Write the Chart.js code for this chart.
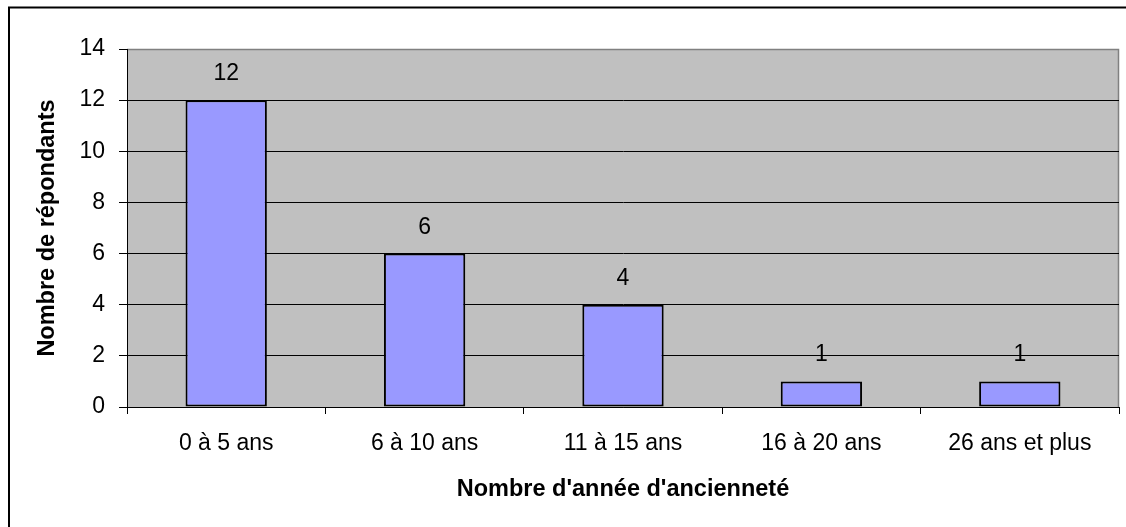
<!DOCTYPE html>
<html>
<head>
<meta charset="utf-8">
<script src="https://cdn.jsdelivr.net/npm/chart.js@4/dist/chart.umd.min.js"></script>
<style>
  html, body { margin: 0; padding: 0; background: #fff; }
  #wrap { width: 1126px; height: 527px; }
</style>
</head>
<body>
<div id="wrap"><canvas id="c" width="1126" height="527"></canvas></div>
<script>
// Répartition des répondants selon l'ancienneté
const categories = ['0 à 5 ans', '6 à 10 ans', '11 à 15 ans', '16 à 20 ans', '26 ans et plus'];
const respondents = [12, 6, 4, 1, 1];
const yTickValues = [0, 2, 4, 6, 8, 10, 12, 14];
const xTitle = "Nombre d'année d'ancienneté";
const yTitle = 'Nombre de répondants';

const FONT = "'Liberation Sans', Arial, sans-serif";

// Grey plot background, grey top/right frame and outer chart border
const frame = {
  id: 'frame',
  beforeDraw(chart) {
    const { ctx, chartArea: a } = chart;
    ctx.save();
    ctx.fillStyle = '#ffffff';
    ctx.fillRect(0, 0, chart.width, chart.height);
    ctx.strokeStyle = '#000000';
    ctx.lineWidth = 2;
    ctx.strokeRect(9, 7.5, 1300, 700);
    ctx.fillStyle = '#c0c0c0';
    ctx.fillRect(a.left, a.top, a.right - a.left, a.bottom - a.top);
    ctx.strokeStyle = '#808080';
    ctx.lineWidth = 1.5;
    ctx.beginPath();
    ctx.moveTo(a.left, a.top + 0.5);
    ctx.lineTo(a.right - 0.5, a.top + 0.5);
    ctx.lineTo(a.right - 0.5, a.bottom);
    ctx.stroke();
    ctx.restore();
  }
};

// Value printed above each bar
const valueLabels = {
  id: 'valueLabels',
  afterDatasetsDraw(chart) {
    const { ctx } = chart;
    const meta = chart.getDatasetMeta(0);
    ctx.save();
    ctx.fillStyle = '#000';
    ctx.font = '23px ' + FONT;
    ctx.textAlign = 'center';
    ctx.textBaseline = 'alphabetic';
    meta.data.forEach((bar, i) => {
      ctx.fillText(String(respondents[i]), bar.x, bar.y - 20);
    });
    ctx.restore();
  }
};

new Chart(document.getElementById('c'), {
  type: 'bar',
  data: {
    labels: categories,
    datasets: [{
      data: respondents,
      backgroundColor: '#9999ff',
      borderColor: '#000000',
      borderWidth: 2,
      borderSkipped: false,
      categoryPercentage: 1,
      barPercentage: 0.41
    }]
  },
  options: {
    responsive: false,
    animation: false,
    devicePixelRatio: 1,
    layout: { padding: { top: 49, right: 7, left: 0, bottom: 0 } },
    plugins: {
      legend: { display: false },
      tooltip: { enabled: false }
    },
    scales: {
      x: {
        afterFit(scale) { scale.height = 120; },
        grid: {
          display: true,
          offset: true,
          drawOnChartArea: false,
          drawTicks: true,
          tickLength: 7,
          tickColor: '#000'
        },
        border: { display: true, color: '#000', width: 1 },
        ticks: {
          color: '#000',
          font: { family: FONT, size: 23 },
          padding: 16,
          maxRotation: 0,
          autoSkip: false
        },
        title: {
          display: true,
          text: xTitle,
          color: '#000',
          font: { family: FONT, size: 23.5, weight: 'bold' },
          padding: { top: 0, bottom: 23 }
        }
      },
      y: {
        min: 0,
        max: 14,
        afterFit(scale) { scale.width = 127; },
        afterBuildTicks(scale) { scale.ticks = yTickValues.map(v => ({ value: v })); },
        grid: {
          color: (c) => (c.tick && c.tick.value === 14 ? 'rgba(0,0,0,0)' : '#000'),
          lineWidth: 1,
          drawTicks: true,
          tickLength: 8,
          tickColor: '#000'
        },
        border: { display: true, color: '#000', width: 1 },
        ticks: {
          color: '#000',
          font: { family: FONT, size: 23 },
          padding: 14
        },
        title: {
          display: true,
          text: yTitle,
          color: '#000',
          font: { family: FONT, size: 23.5, weight: 'bold' },
          padding: { top: 33, bottom: 0 }
        }
      }
    }
  },
  plugins: [frame, valueLabels]
});
</script>
</body>
</html>
